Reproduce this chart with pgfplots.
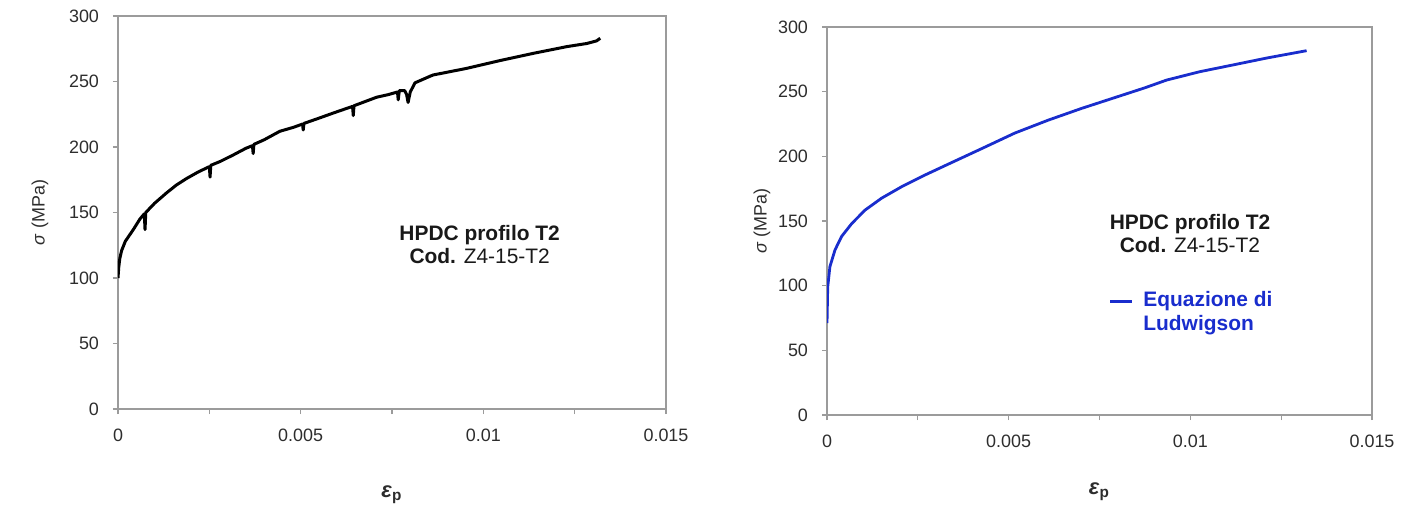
\documentclass[border=0pt]{standalone}
\usepackage{pgfplots}
\pgfplotsset{compat=1.18}
\usepackage{fontspec}
\setmainfont{Liberation Sans}
\definecolor{axgray}{RGB}{155,155,155}
\definecolor{txt}{RGB}{45,45,45}
\definecolor{ludblue}{RGB}{25,45,205}

\pgfplotsset{
  strain/.style={
    scale only axis,
    xmin=0, xmax=0.015, ymin=0, ymax=300,
    scaled x ticks=false,
    xtick={0,0.0025,0.005,0.0075,0.01,0.0125,0.015},
    xticklabels={0,,0.005,,0.01,,0.015},
    ytick={0,50,100,150,200,250,300},
    xtick pos=left, ytick pos=left,
    tick align=outside, major tick length=2.5bp,
    tick style={axgray, line width=0.6bp},
    axis line style={axgray, line width=0.75bp},
    tick label style={font=\fontsize{9}{10}\selectfont, text=txt},
    /pgf/number format/assume math mode=true,
    xticklabel style={yshift=-4bp},
    yticklabel style={xshift=-3.5bp},
    ylabel={\textit{σ} (MPa)},
    ylabel style={at={(rel axis cs:0,0.5)}, anchor=center,
      font=\fontsize{9}{10}\selectfont, text=txt},
    xlabel={\textbf{\textit{ε}}\textsubscript{\textbf{p}}},
    xlabel style={at={(rel axis cs:0.5,0)}, anchor=center,
      font=\fontsize{11}{12}\selectfont, text=txt},
  },
}
\tikzset{note/.style={align=center, font=\fontsize{10.5}{11.5}\selectfont, text=black!90}}

\pgfplotstableread{
eps sigma
0.00000 100
0.00002 108
0.00005 115
0.00010 121
0.00020 128
0.00042 137
0.00060 145
0.00072 149
0.00074 137
0.00076 150
0.00100 157
0.00133 165
0.00160 171
0.00188 176
0.00220 181
0.00250 185
0.00252 177
0.00254 186
0.00280 189
0.00316 194
0.00350 199
0.00368 201
0.00370 195
0.00372 202
0.00400 205.5
0.00443 212
0.00480 215
0.00505 217.5
0.00507 213
0.00509 218
0.00550 222
0.00590 226
0.00642 231
0.00644 224
0.00646 231.5
0.00708 238
0.00740 240
0.00765 242
0.00767 236
0.00770 243
0.00785 243
0.00790 240
0.00794 234
0.00800 242
0.00813 249
0.00854 254
0.00863 255
0.00954 260
0.01046 266
0.01137 271.5
0.01228 276.6
0.01283 279
0.01310 281
0.01320 283
}\sperimentale

\pgfplotstableread{
eps sigma
0.00000 71
0.00002 99
0.00008 114.7
0.00022 127.6
0.00040 138
0.00068 148
0.00105 158.5
0.00150 167.6
0.00206 176.6
0.00270 185.6
0.00334 194
0.00426 206
0.00517 218
0.00609 228
0.00700 237
0.00793 245.5
0.00875 253
0.00935 259
0.01027 265.5
0.01118 270.7
0.01210 276
0.01320 281.7
}\ludwigson

\begin{document}
\begin{tikzpicture}
\path[use as bounding box] (-59bp,-50.5bp) rectangle (645.5bp,204.5bp);

% curva sperimentale
\begin{axis}[strain, width=274bp, height=196.5bp,
    ylabel style={yshift=39bp}, xlabel style={yshift=-43bp}]
\addplot[black, line width=1.5bp, line join=round] table[x=eps, y=sigma] {\sperimentale};
\node[note] at (axis cs:0.0099,125.6) {\textbf{HPDC profilo T2}\\\textbf{Cod.} Z4-15-T2};
\end{axis}

% equazione di Ludwigson
\begin{axis}[strain, width=272.5bp, height=194bp, at={(354.5bp,-3bp)}, anchor=south west,
    ylabel style={yshift=32.5bp}, xlabel style={yshift=-38.5bp},
    legend style={draw=none, fill=none, at={(rel axis cs:0.505,0.34)}, anchor=north west,
      font=\bfseries\fontsize{10.5}{12}\selectfont, text=ludblue,
      nodes={align=left}},
    legend cell align=left,
    legend image code/.code={\draw[#1] (0bp,5.5bp) -- (11bp,5.5bp); \path (14bp,0bp);}]
\addplot[ludblue, line width=1.4bp] table[x=eps, y=sigma] {\ludwigson};
\addlegendentry{Equazione di\\Ludwigson}
\node[note] at (axis cs:0.00999,140) {\textbf{HPDC profilo T2}\\\textbf{Cod.} Z4-15-T2};
\end{axis}
\end{tikzpicture}
\end{document}
